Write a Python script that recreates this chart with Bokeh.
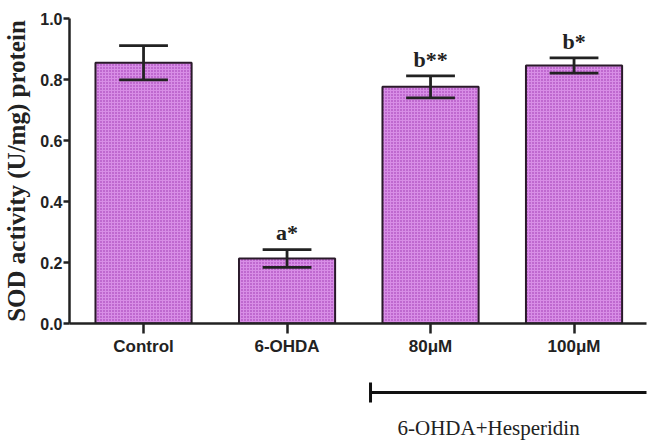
from bokeh.plotting import figure
from bokeh.models import Range1d, FixedTicker, ColumnDataSource
from bokeh.layouts import column
from bokeh.core.properties import value
from bokeh.embed import file_html
from bokeh.resources import INLINE

# ---- data ----
categories = ["Control", "6-OHDA", "80\u03bcM", "100\u03bcM"]
means = [0.855, 0.213, 0.776, 0.846]
errors = [0.056, 0.029, 0.036, 0.025]
sig_labels = ["", "a*", "b**", "b*"]
y_ticks = [0.0, 0.2, 0.4, 0.6, 0.8, 1.0]
y_tick_labels = ["0.0", "0.2", "0.4", "0.6", "0.8", "1.0"]
group_label = "6-OHDA+Hesperidin"
group_start = 1.6      # bracket begins between 6-OHDA and 80uM
group_text_x = 2.43

xs = list(range(len(categories)))
bar_w = 0.67
cap_w = 0.34

src = ColumnDataSource(dict(
    x=xs, top=means,
    lo=[m - e for m, e in zip(means, errors)],
    hi=[m + e for m, e in zip(means, errors)],
    cl=[x - cap_w / 2 for x in xs],
    cr=[x + cap_w / 2 for x in xs],
    lab=sig_labels,
    laby=[m + e + 0.014 for m, e in zip(means, errors)],
))

LEFT = 69
x_range = Range1d(-0.516, 3.505)
x_range_q = Range1d(-0.516, 3.54)

p = figure(width=651, height=358, x_range=x_range, y_range=Range1d(0, 1.0),
           output_backend="svg", toolbar_location=None,
           min_border_left=LEFT, min_border_right=5, min_border_top=18,
           min_border_bottom=35)
p.grid.visible = False
p.outline_line_color = None
p.background_fill_color = "white"

p.vbar(x="x", top="top", width=bar_w, bottom=0, source=src,
       fill_color="#d88ee6", line_color="#2a1a2a", line_width=2,
       hatch_pattern="dot", hatch_color="#9830ac", hatch_scale=3,
       hatch_weight=2)
p.segment(x0="x", y0="lo", x1="x", y1="hi", source=src,
          line_color="#222222", line_width=2.8)
p.segment(x0="cl", y0="hi", x1="cr", y1="hi", source=src,
          line_color="#222222", line_width=2.8)
p.segment(x0="cl", y0="lo", x1="cr", y1="lo", source=src,
          line_color="#222222", line_width=2.8)
p.text(x="x", y="laby", text="lab", source=src, text_align="center",
       text_baseline="bottom", text_font=value("Liberation Serif"),
       text_font_style="bold", text_font_size="22px", text_color="#222222")

# x axis
xa = p.xaxis[0]
xa.ticker = FixedTicker(ticks=xs)
xa.major_label_overrides = {i: c for i, c in enumerate(categories)}
xa.major_tick_out = 10
xa.major_tick_in = 0
xa.minor_tick_line_color = None
xa.axis_line_width = 2.5
xa.major_tick_line_width = 2.5
xa.axis_line_color = "#222222"
xa.major_tick_line_color = "#222222"
xa.major_label_text_font = "Liberation Sans"
xa.major_label_text_font_style = "bold"
xa.major_label_text_font_size = "17px"
xa.major_label_text_color = "#222222"
xa.major_label_standoff = 3

# y axis
ya = p.yaxis[0]
ya.ticker = FixedTicker(ticks=y_ticks)
ya.major_label_overrides = {t: l for t, l in zip(y_ticks, y_tick_labels)}
ya.major_tick_out = 6
ya.major_tick_in = 0
ya.minor_tick_line_color = None
ya.axis_line_width = 2.5
ya.major_tick_line_width = 2.5
ya.axis_line_color = "#222222"
ya.major_tick_line_color = "#222222"
ya.major_label_text_font = "Liberation Sans"
ya.major_label_text_font_style = "bold"
ya.major_label_text_font_size = "16px"
ya.major_label_text_color = "#222222"
ya.major_label_standoff = 1
ya.axis_label = "SOD activity (U/mg) protein"
ya.axis_label_text_font = "Liberation Serif"
ya.axis_label_text_font_style = "bold"
ya.axis_label_text_font_size = "25px"
ya.axis_label_text_color = "#222222"
ya.axis_label_standoff = 7

# bracket panel
q = figure(width=651, height=83, x_range=x_range_q, y_range=Range1d(83, 0),
           x_axis_type=None, y_axis_type=None,
           output_backend="svg", toolbar_location=None,
           min_border_left=LEFT, min_border_right=0, min_border_top=0,
           min_border_bottom=0)
q.grid.visible = False
q.outline_line_color = None
q.segment(x0=[group_start], y0=[34], x1=[3.6], y1=[34],
          line_color="#111111", line_width=3)
q.segment(x0=[group_start], y0=[24], x1=[group_start], y1=[44],
          line_color="#111111", line_width=3)
q.text(x=[group_text_x], y=[69], text=[group_label], text_align="center",
       text_baseline="middle", text_font=value("Liberation Serif"),
       text_font_size="21px", text_color="#222222")

layout = column(p, q, spacing=0)
open("out.html", "w").write(file_html(layout, INLINE))
